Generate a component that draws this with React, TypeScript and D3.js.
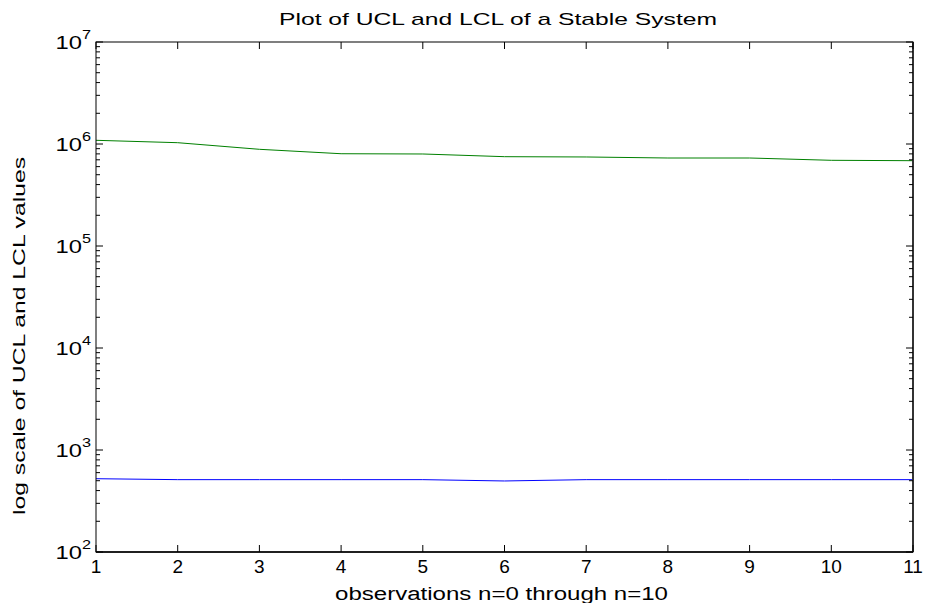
import React from "react";
import * as d3 from "d3";

const observations = [1, 2, 3, 4, 5, 6, 7, 8, 9, 10, 11];
const uclValues = [1087000, 1030000, 887000, 803000, 798000, 751000, 746000, 729000, 729000, 692000, 686000];
const lclValues = [523, 512, 512, 512, 512, 497, 512, 512, 512, 512, 512];
const xTickValues = [1, 2, 3, 4, 5, 6, 7, 8, 9, 10, 11];
const yDecadeExponents = [2, 3, 4, 5, 6, 7];

const titleText = "Plot of UCL and LCL of a Stable System";
const xLabelText = "observations n=0 through n=10";
const yLabelText = "log scale of UCL and LCL values";

const W = 927;
const H = 603;
const L = 96;
const R = 913;
const T = 42;
const B = 552;
const FONT = "'Liberation Sans', Arial, sans-serif";

export default function App() {
  const x = d3.scaleLinear().domain([1, 11]).range([L, R]);
  const y = d3.scaleLog().domain([1e2, 1e7]).range([B, T]);

  const line = d3
    .line<number>()
    .x((_, i) => x(observations[i]))
    .y((d) => y(d));

  const minorTicks: number[] = [];
  for (let e = 2; e < 7; e++) {
    for (let m = 2; m <= 9; m++) minorTicks.push(m * Math.pow(10, e));
  }

  return (
    <svg
      width={W}
      height={H}
      style={{ position: "absolute", left: 0, top: 0, background: "#fff" }}
      fontFamily={FONT}
    >
      <rect x={0} y={0} width={W} height={H} fill="#fff" />
      {/* data lines */}
      <path d={line(uclValues) || ""} fill="none" stroke="#008000" strokeWidth={1} />
      <path d={line(lclValues) || ""} fill="none" stroke="#0000ff" strokeWidth={1} />

      {/* frame */}
      <rect x={L} y={T} width={R - L} height={B - T} fill="none" stroke="#000" strokeWidth={1} />
      <line x1={R} x2={R} y1={T} y2={B} stroke="#333" strokeWidth={2} />
      <line x1={L} x2={R} y1={B} y2={B} stroke="#000" strokeWidth={1.5} />

      {/* x ticks */}
      {xTickValues.map((v) => (
        <g key={"xt" + v}>
          <line x1={x(v)} x2={x(v)} y1={B} y2={B - 7} stroke="#000" />
          <line x1={x(v)} x2={x(v)} y1={T} y2={T + 7} stroke="#000" />
          <text x={x(v)} y={573} textAnchor="middle" fontSize={19} fill="#000">
            {v}
          </text>
        </g>
      ))}

      {/* y major ticks */}
      {yDecadeExponents.map((e) => {
        const yy = y(Math.pow(10, e));
        return (
          <g key={"yt" + e}>
            <line x1={L} x2={L + 7} y1={yy} y2={yy} stroke="#000" />
            <line x1={R} x2={R - 7} y1={yy} y2={yy} stroke="#000" />
            <g transform={`translate(91,${yy + 6.5}) scale(1.25,1)`}>
              <text textAnchor="end" fontSize={19} fill="#000">
                10
                <tspan dy={-10} fontSize={13}>
                  {e}
                </tspan>
              </text>
            </g>
          </g>
        );
      })}

      {/* y minor ticks */}
      {minorTicks.map((v) => {
        const yy = y(v);
        return (
          <g key={"ym" + v}>
            <line x1={L} x2={L + 4} y1={yy} y2={yy} stroke="#000" />
            <line x1={R} x2={R - 4} y1={yy} y2={yy} stroke="#000" />
          </g>
        );
      })}

      {/* title */}
      <text
        x={498}
        y={25}
        textAnchor="middle"
        fontSize={17}
        textLength={438}
        lengthAdjust="spacingAndGlyphs"
        fill="#000"
      >
        {titleText}
      </text>

      {/* x label */}
      <text
        x={501.5}
        y={600}
        textAnchor="middle"
        fontSize={18}
        textLength={333}
        lengthAdjust="spacingAndGlyphs"
        fill="#000"
      >
        {xLabelText}
      </text>

      {/* y label */}
      <text
        transform={`translate(25,336) rotate(-90)`}
        textAnchor="middle"
        fontSize={17}
        textLength={358}
        lengthAdjust="spacingAndGlyphs"
        fill="#000"
      >
        {yLabelText}
      </text>
    </svg>
  );
}
